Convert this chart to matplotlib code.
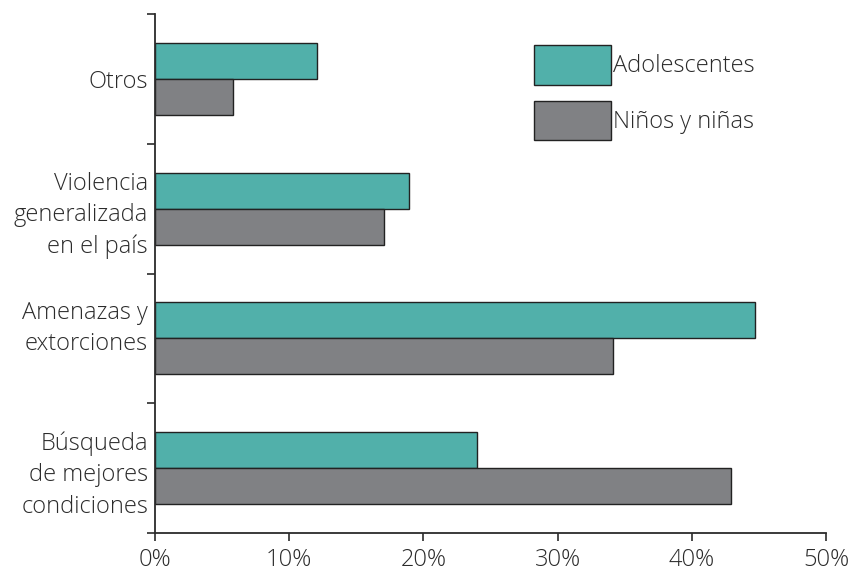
import numpy as np
import matplotlib.pyplot as plt
from matplotlib.ticker import FixedLocator, PercentFormatter
from matplotlib.transforms import offset_copy

# datos (de abajo hacia arriba)
categorias = ['Búsqueda\nde mejores\ncondiciones', 'Amenazas y\nextorciones',
              'Violencia\ngeneralizada\nen el país', 'Otros']
adolescentes = [24.0, 44.7, 18.9, 12.1]
ninos = [42.9, 34.1, 17.1, 5.8]
series = ['Adolescentes', 'Niños y niñas']
x_ticks = [0, 10, 20, 30, 40, 50]

TEAL = '#51b0aa'
GRIS = '#808184'
TXT = '#2b2b2b'
FS = 17

plt.rcParams['font.family'] = ['Open Sans', 'DejaVu Sans']
plt.rcParams['font.weight'] = 'light'

fig = plt.figure(figsize=(8.52, 5.76), dpi=100)
ax = fig.add_axes([155 / 852, 1 - 533 / 576, (826 - 155) / 852, (533 - 14) / 576])

pos = np.arange(len(categorias)) + 0.5
h = 0.277
ax.barh(pos + h / 2, adolescentes, height=h, color=TEAL, edgecolor='#222222',
        linewidth=1.0, label=series[0])
ax.barh(pos - h / 2, ninos, height=h, color=GRIS, edgecolor='#222222',
        linewidth=1.0, label=series[1])

ax.set_xlim(0, 50)
ax.set_ylim(0, len(categorias))

for s in ['top', 'right']:
    ax.spines[s].set_visible(False)
for s in ['left', 'bottom']:
    ax.spines[s].set_color(TXT)
    ax.spines[s].set_linewidth(1.3)

ax.set_xticks(x_ticks)
ax.xaxis.set_major_formatter(PercentFormatter(decimals=0))
ax.tick_params(axis='x', length=6, width=1.2, color=TXT, labelsize=FS,
               labelcolor=TXT, pad=5)

# separadores de categoria en el eje y, etiquetas centradas
ax.yaxis.set_major_locator(FixedLocator(np.arange(len(categorias) + 1)))
ax.yaxis.set_major_formatter(plt.NullFormatter())
ax.yaxis.set_minor_locator(FixedLocator(pos))
ax.set_yticklabels(categorias, minor=True)
ax.tick_params(axis='y', which='major', length=6, width=1.2, color=TXT)
ax.tick_params(axis='y', which='minor', length=0, pad=5, labelsize=FS,
               labelcolor=TXT)
for lbl in ax.get_yticklabels(minor=True):
    lbl.set_linespacing(1.42)

# en el original "Amenazas y extorciones" esta un poco mas arriba
for tk in ax.yaxis.get_minor_ticks():
    if tk.label1.get_text().startswith('Amenazas'):
        tk.label1.set_transform(offset_copy(tk.label1.get_transform(), fig=fig,
                                            y=12, units='points'))

leg = ax.legend(loc='upper left', bbox_to_anchor=(534 / 852, 1 - 45 / 576),
                bbox_transform=fig.transFigure, frameon=False, fontsize=FS,
                borderpad=0, borderaxespad=0, handlelength=3.25, handleheight=2.21,
                handletextpad=0.1, labelspacing=0.67)
for t in leg.get_texts():
    t.set_color(TXT)

fig.savefig('out.png', dpi=100)
